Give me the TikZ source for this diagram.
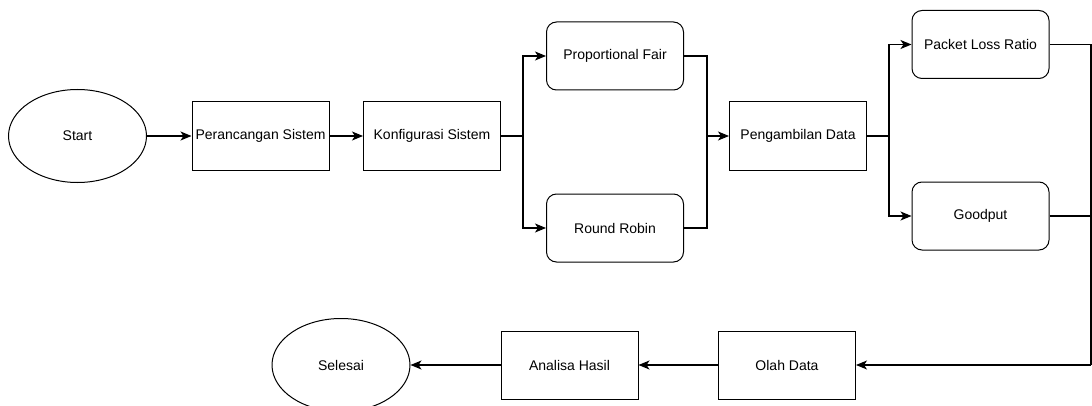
\documentclass[tikz,border=0pt]{standalone}
\usepackage{fontspec}
\setmainfont{Liberation Sans}
\usetikzlibrary{arrows.meta,shapes.geometric}
\tikzset{
	proses/.style={draw,line width=1pt,minimum width=137pt,minimum height=68pt,inner sep=0pt,font=\fontsize{14}{16}\selectfont},
	pilihan/.style={proses,rounded corners=10pt},
	terminal/.style={draw,ellipse,line width=1pt,minimum width=138pt,minimum height=93pt,inner sep=0pt,font=\fontsize{14}{16}\selectfont},
	panah/.style={-{Stealth[length=11pt,width=9pt,inset=3pt]}}
}
\begin{document}
\begin{tikzpicture}[x=1pt,y=1pt,line width=1.1pt]
	\useasboundingbox (0,0) rectangle (1092,405);
	\coordinate (S1) at (523,269); \coordinate (M1) at (707,269);
	\coordinate (S2) at (889,269); \coordinate (T) at (1091,40);
	\node[terminal] (start) at (77.5,269) {Start};
	\node[proses] (rancang) at (260.5,269) {Perancangan Sistem};
	\node[proses] (konfig) at (432,269) {Konfigurasi Sistem};
	\node[pilihan] (pf) at (615,349) {Proportional Fair};
	\node[pilihan] (rr) at (615,177) {Round Robin};
	\node[proses] (ambil) at (798,269) {Pengambilan Data};
	\node[pilihan] (plr) at (980.5,360.5) {Packet Loss Ratio};
	\node[pilihan] (good) at (980.5,189) {Goodput};
	\node[proses] (olah) at (787,40) {Olah Data};
	\node[proses] (analisa) at (569.5,40) {Analisa Hasil};
	\node[terminal] (selesai) at (341,40) {Selesai};
	\draw[panah] (start) -- (rancang);
	\draw[panah] (rancang) -- (konfig);
	\draw (konfig) -- (S1); \draw[panah] (S1) |- (pf.west); \draw[panah] (S1) |- (rr.west);
	\draw (pf.east) -| (M1) (rr.east) -| (M1); \draw[panah] (M1) -- (ambil);
	\draw (ambil) -- (S2); \draw[panah] (S2) |- (plr.west); \draw[panah] (S2) |- (good.west);
	\draw (plr.east) -| (T) (good.east) -- (good.east -| T);
	\draw[panah] (T) -- (olah);
	\draw[panah] (olah) -- (analisa);
	\draw[panah] (analisa) -- (selesai);
\end{tikzpicture}
\end{document}
